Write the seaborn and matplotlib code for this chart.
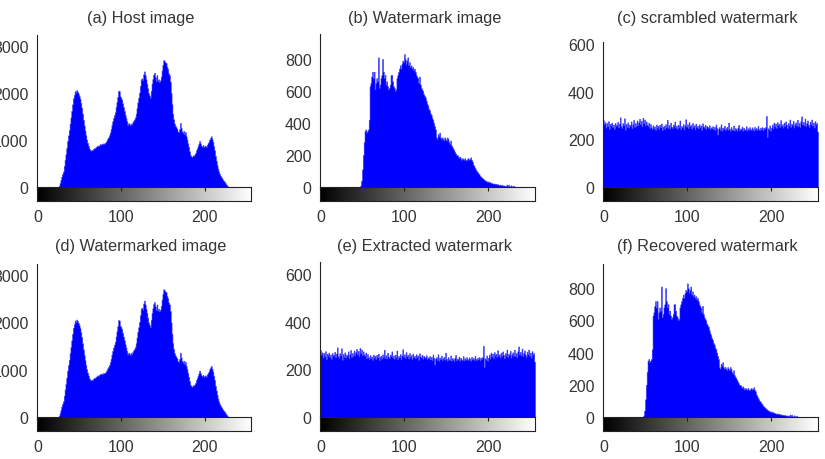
import numpy as np
import pandas as pd
import matplotlib
matplotlib.use("Agg")
import matplotlib.pyplot as plt
import seaborn as sns

# gray levels 0..255
levels = np.arange(256)

# host image histogram, counts from level 26 to 228 (zero elsewhere)
host_start = 26
host_counts = [
    30, 80, 150, 220, 280, 330, 450, 580, 700, 830, 980, 1100, 1210, 1350, 1480, 1620,
    1760, 1890, 1960, 2040, 2010, 2060, 2030, 1990, 1940, 1880, 1790, 1690, 1560, 1430, 1310, 1200,
    1100, 1010, 940, 880, 820, 790, 770, 790, 780, 810, 830, 820, 850, 860, 880, 870,
    890, 910, 900, 920, 910, 930, 920, 940, 960, 990, 1030, 1060, 1100, 1160, 1230, 1320,
    1400, 1470, 1530, 1590, 1700, 1810, 1920, 2050, 2040, 1930, 1900, 1860, 1780, 1700, 1620, 1540,
    1470, 1400, 1320, 1360, 1340, 1310, 1350, 1330, 1380, 1410, 1440, 1480, 1560, 1680, 1800, 1900,
    2010, 2150, 2290, 2310, 2270, 2400, 2460, 2380, 2290, 2200, 2100, 2000, 1950, 1900, 2050, 2200,
    2300, 2390, 2430, 2340, 2260, 2380, 2250, 2290, 2230, 2270, 2350, 2480, 2600, 2700, 2680, 2650,
    2640, 2560, 2510, 2420, 2380, 2240, 2000, 1760, 1560, 1440, 1350, 1300, 1270, 1240, 1180, 1170,
    1230, 1360, 1260, 1180, 1150, 1190, 1120, 1170, 1080, 1010, 930, 850, 760, 680, 650, 640,
    670, 660, 690, 720, 780, 820, 870, 920, 980, 930, 880, 860, 890, 850, 870, 880,
    850, 900, 930, 960, 1010, 1050, 1080, 1020, 960, 870, 780, 660, 560, 470, 390, 330,
    280, 240, 210, 180, 150, 130, 110, 80, 50, 30, 10,
]

# watermark image histogram, counts from level 48 to 232
wm_start = 48
wm_counts = [
    10, 40, 110, 200, 280, 350, 360, 340, 350, 360, 420, 630, 650, 690, 720, 680,
    720, 610, 650, 680, 660, 810, 620, 640, 680, 700, 800, 720, 680, 700, 640, 660,
    630, 610, 620, 640, 700, 700, 660, 630, 620, 600, 610, 680, 700, 720, 740, 760,
    740, 770, 790, 780, 830, 800, 770, 790, 810, 760, 780, 750, 760, 740, 750, 730,
    740, 720, 700, 690, 680, 650, 690, 640, 620, 610, 600, 580, 570, 560, 540, 520,
    510, 490, 480, 460, 450, 430, 420, 400, 380, 360, 310, 300, 330, 320, 340, 310,
    300, 310, 300, 290, 310, 300, 290, 310, 300, 280, 270, 290, 260, 250, 240, 230,
    220, 210, 200, 200, 190, 180, 190, 180, 170, 180, 175, 170, 180, 170, 165, 175,
    180, 170, 175, 185, 170, 160, 140, 130, 120, 110, 100, 95, 85, 80, 70, 65,
    60, 55, 50, 45, 40, 40, 35, 30, 35, 28, 30, 25, 25, 22, 20, 22,
    18, 20, 15, 18, 14, 12, 14, 10, 12, 9, 10, 8, 8, 7, 15, 6,
    14, 5, 4, 10, 4, 3, 8, 2, 2,
]

# scrambled / extracted watermark histogram, all 256 levels
scr_counts = [
    280, 262, 271, 249, 268, 255, 276, 243, 265, 258, 270, 252, 262, 244, 268, 257,
    261, 273, 250, 266, 292, 255, 247, 268, 259, 288, 240, 264, 253, 271, 249, 262,
    257, 275, 246, 263, 281, 252, 268, 256, 279, 260, 272, 286, 263, 277, 254, 290,
    268, 283, 259, 275, 262, 257, 270, 248, 264, 251, 243, 259, 246, 254, 240, 262,
    249, 256, 243, 261, 250, 266, 238, 252, 257, 244, 263, 251, 282, 248, 259, 245,
    270, 253, 247, 262, 256, 275, 249, 258, 244, 261, 252, 279, 243, 256, 250, 264,
    241, 258, 284, 253, 263, 247, 272, 255, 260, 245, 268, 252, 259, 241, 266, 250,
    257, 246, 263, 251, 258, 240, 267, 254, 249, 261, 244, 256, 252, 248, 259, 243,
    250, 246, 255, 241, 252, 239, 262, 248, 220, 245, 251, 240, 263, 236, 249, 243,
    257, 238, 246, 252, 240, 270, 244, 236, 251, 242, 239, 258, 237, 247, 243, 234,
    249, 260, 238, 245, 241, 253, 236, 248, 242, 239, 255, 237, 246, 240, 251, 243,
    238, 250, 244, 236, 252, 241, 247, 239, 256, 243, 238, 249, 242, 251, 237, 248,
    244, 252, 298, 210, 246, 241, 258, 236, 249, 262, 245, 270, 254, 266, 248, 272,
    259, 265, 251, 280, 257, 263, 249, 270, 256, 275, 261, 247, 268, 258, 283, 252,
    266, 260, 277, 249, 263, 271, 257, 282, 255, 268, 250, 276, 296, 262, 273, 258,
    287, 255, 268, 279, 261, 252, 274, 264, 283, 257, 270, 249, 276, 262, 268, 232,
]

titles = ["(a) Host image", "(b) Watermark image", "(c) scrambled watermark",
          "(d) Watermarked image", "(e) Extracted watermark", "(f) Recovered watermark"]
x_ticks = [0, 100, 200]


def full_hist(start, counts):
    h = np.zeros(256)
    h[start:start + len(counts)] = counts
    return pd.DataFrame({"level": levels, "count": h})


host = full_hist(host_start, host_counts)
wm = full_hist(wm_start, wm_counts)
scr = pd.DataFrame({"level": levels, "count": scr_counts})

sns.set_style("white")
plt.rcParams["font.family"] = ["Liberation Sans", "DejaVu Sans"]

W, H = 825, 460
fig = plt.figure(figsize=(W / 100, H / 100), dpi=100)


def rect(left, top, right, bottom):
    return [left / W, 1 - bottom / H, (right - left) / W, (bottom - top) / H]


cols = [(37, 251), (320, 535), (603, 818)]
# (data, ylim top, yticks, axes top px, row)
panels = [
    (host, 3234, [0, 1000, 2000, 3000], 36, 0),
    (wm, 956, [0, 200, 400, 600, 800], 35, 0),
    (scr, 608, [0, 200, 400, 600], 43, 0),
    (host, 3234, [0, 1000, 2000, 3000], 265, 1),
    (scr, 650, [0, 200, 400, 600], 263, 1),
    (wm, 950, [0, 200, 400, 600, 800], 265, 1),
]
base_px = [188, 418]
title_px = [18, 247]
txt = "#363636"
bins = [b - 0.5 for b in range(257)]

for i, (df, ytop, yt, top, row) in enumerate(panels):
    left, right = cols[i % 3]
    base = base_px[row]
    ax = fig.add_axes(rect(left, top, right, base))
    sns.histplot(data=df, x="level", weights="count", bins=bins, element="step",
                 fill=True, color="#0000ff", alpha=1, linewidth=0.4,
                 edgecolor="#3a3aff", ax=ax)
    ax.set_xlim(-0.5, 255.5)
    ax.set_ylim(0, ytop)
    ax.set_xticks([])
    ax.set_yticks(yt)
    ax.set_xlabel("")
    ax.set_ylabel("")
    for s in ["top", "right", "bottom"]:
        ax.spines[s].set_visible(False)
    ax.spines["left"].set_color("#222222")
    ax.spines["left"].set_linewidth(0.8)
    ax.tick_params(axis="y", direction="in", length=3, labelsize=11.5,
                   labelcolor=txt, pad=6, color="#222222")

    cax = fig.add_axes(rect(left, base, right, base + 14))
    cax.imshow(levels[None, :], cmap="gray", aspect="auto", vmin=0, vmax=255,
               extent=(-0.5, 255.5, 0, 1))
    cax.set_xlim(-0.5, 255.5)
    cax.set_yticks([])
    cax.set_xticks(x_ticks)
    cax.tick_params(axis="x", direction="in", length=3, top=True, labelsize=11.5,
                    labelcolor=txt, pad=6, color="#222222")
    for s in cax.spines.values():
        s.set_color("#222222")
        s.set_linewidth(0.8)

    fig.text(((left + right) / 2 - 3) / W, 1 - title_px[row] / H, titles[i],
             ha="center", va="center", fontsize=11.8, color=txt)

fig.savefig("out.png", dpi=100)
